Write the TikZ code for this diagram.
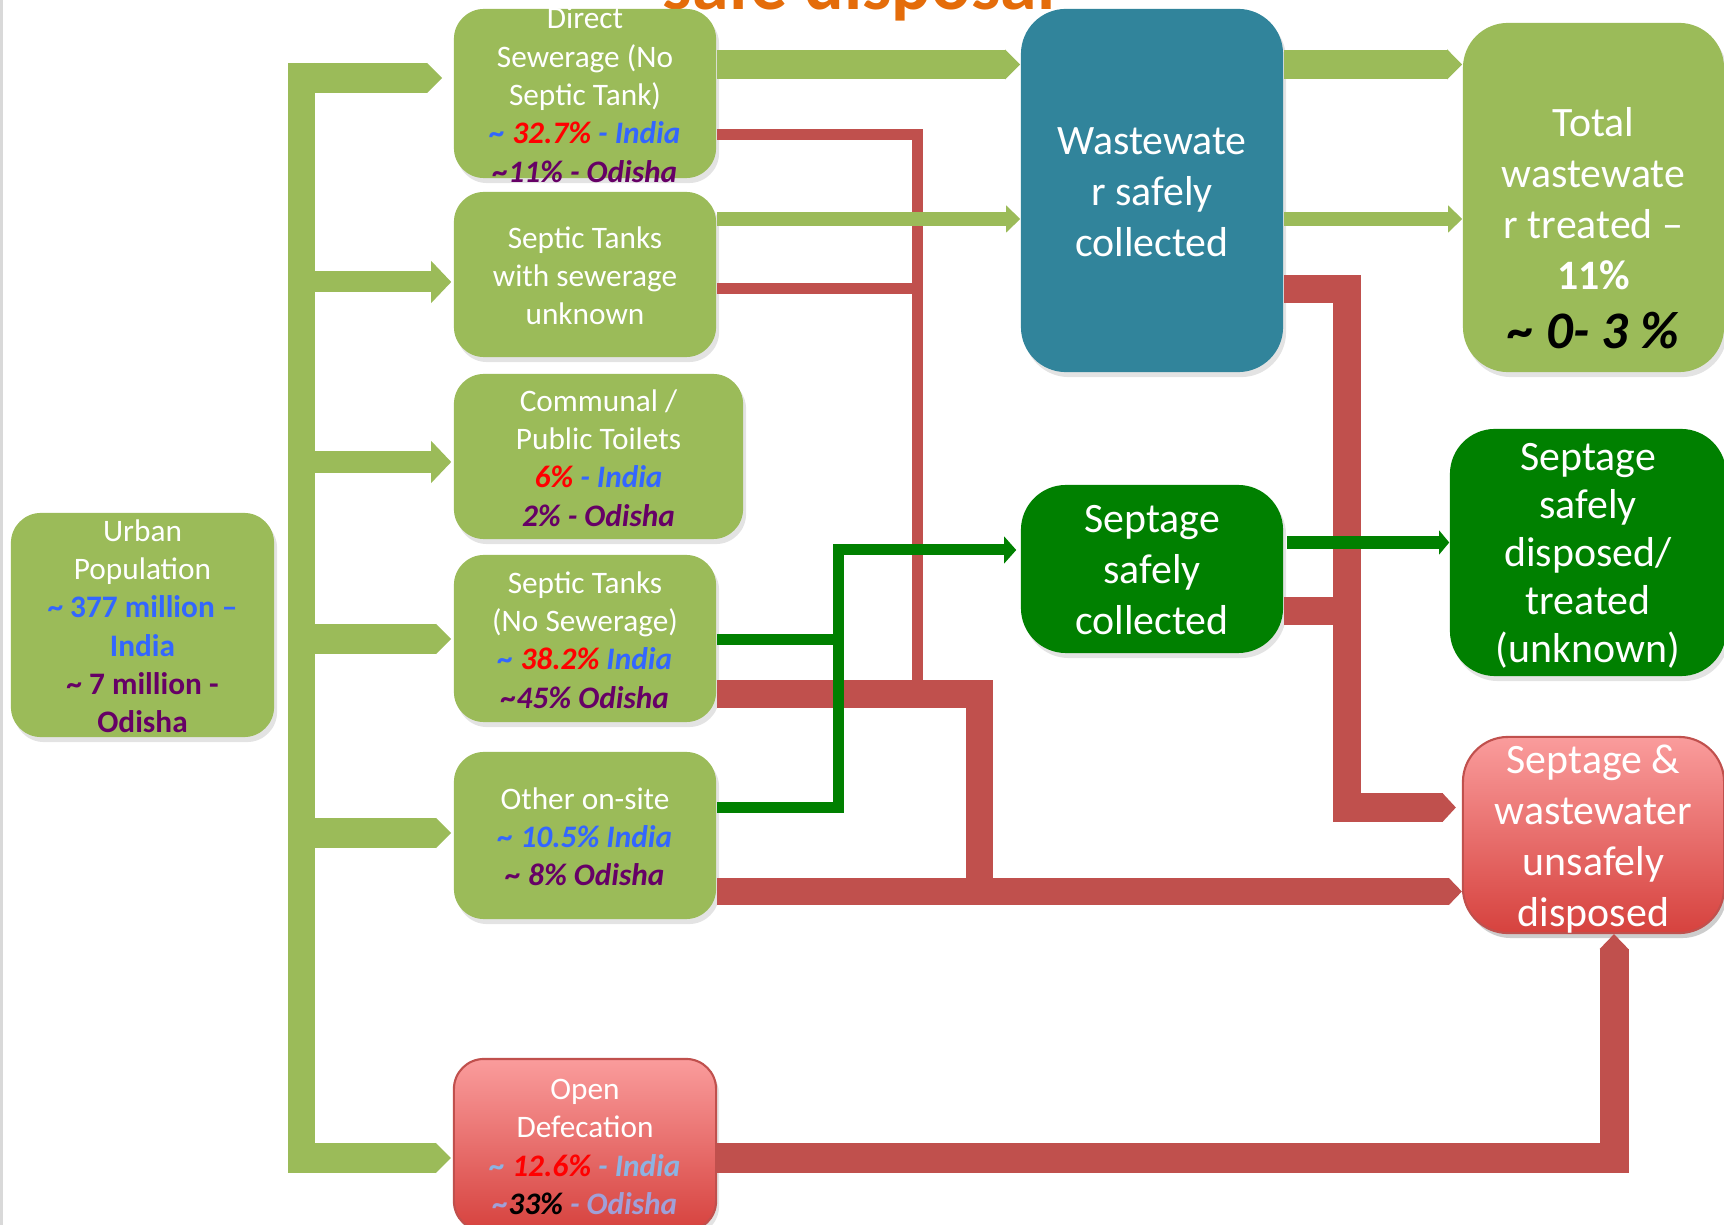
\documentclass[tikz,border=0pt]{standalone}
\usepackage{fontspec}
\setmainfont{Carlito}
\usepackage{xcolor}
\usepackage{tikz}
\usetikzlibrary{arrows.meta,shadows}

\definecolor{flowgreen}{HTML}{9BBB59}
\definecolor{wwteal}{HTML}{31849B}
\definecolor{septgreen}{HTML}{008000}
\definecolor{leakred}{HTML}{C0504D}
\definecolor{pinktop}{HTML}{FA9C9C}
\definecolor{pinkbot}{HTML}{D6423E}
\definecolor{indiablue}{HTML}{3366FF}
\definecolor{odishapurple}{HTML}{660066}
\definecolor{paleblue}{HTML}{8DB3E2}
\definecolor{lavender}{HTML}{A0A0D8}
\definecolor{titleorange}{HTML}{E46C0A}

% centred block of lines that does not grow the box
\newcommand{\boxlines}[2][0pt]{\smash{\raisebox{\dimexpr-0.25em-1.3pt+#1\relax}{\begin{tabular}{@{}c@{}}#2\end{tabular}}}}
\newcommand{\tld}{\textasciitilde}

\begin{document}
\begin{tikzpicture}[
  x=0.01cm, y=-0.01cm,
  cell/.style={rounded corners=0.3cm, inner sep=0pt, text=white,
    font=\fontsize{8.9}{10.9}\selectfont,
    drop shadow={opacity=0.22, shadow xshift=0.03cm, shadow yshift=-0.05cm}},
  greencell/.style={cell, fill=flowgreen},
  pinkcell/.style={cell, top color=pinktop, bottom color=pinkbot, draw=leakred, line width=0.6pt},
  bigcell/.style={cell, rounded corners=0.45cm, font=\fontsize{11.9}{14.5}\selectfont},
  headed/.style 2 args={-{Triangle[length=#1, width=#2, line width=0pt]}},
  flowchev/.style={draw=flowgreen, line width=0.3cm, headed={0.15cm}{0.3cm}},
  flowhead/.style={draw=flowgreen, line width=0.21cm, headed={0.2cm}{0.42cm}},
  flowthin/.style={draw=flowgreen, line width=0.14cm, headed={0.14cm}{0.27cm}},
  redthin/.style={draw=leakred, line width=0.11cm},
  redfat/.style={draw=leakred, line width=0.27cm},
  septline/.style={draw=septgreen, line width=0.11cm}
]
  \useasboundingbox (0,0) rectangle (1724,1225);
  \draw[black!15, line width=0.03cm] (1.5,0) -- (1.5,1225);

  \node[font=\bfseries\fontsize{21}{25}\selectfont, text=titleorange, anchor=base]
    (title) at (859,10) {safe disposal};

  % boxes
  \node[greencell, minimum width=2.63cm, minimum height=2.24cm] (urban) at (142.5,625)
    {\boxlines{Urban\\Population\\
      {\bfseries\color{indiablue}\tld{} 377 million –}\\
      {\bfseries\color{indiablue}India}\\
      {\bfseries\color{odishapurple}\tld{} 7 million -}\\
      {\bfseries\color{odishapurple}Odisha}}};

  \node[greencell, minimum width=2.62cm, minimum height=1.69cm] (direct) at (585,93.5)
    {\boxlines{Direct\\Sewerage (No\\Septic Tank)\\
      {\bfseries\itshape\color{indiablue}\tld{} \textcolor{red}{32.7\%} - India}\\
      {\bfseries\itshape\color{odishapurple}\tld11\% - Odisha}}};
  \node[greencell, minimum width=2.62cm, minimum height=1.65cm] (sewunk) at (585,274.5)
    {\boxlines{Septic Tanks\\with sewerage\\unknown}};
  \node[greencell, minimum width=2.89cm, minimum height=1.65cm] (communal) at (598.5,456.5)
    {\boxlines{Communal /\\Public Toilets\\
      {\bfseries\itshape\textcolor{red}{6\%} \textcolor{indiablue}{- India}}\\
      {\bfseries\itshape\color{odishapurple}2\% - Odisha}}};
  \node[greencell, minimum width=2.62cm, minimum height=1.67cm] (septic) at (585,638.5)
    {\boxlines{Septic Tanks\\(No Sewerage)\\
      {\bfseries\itshape\color{indiablue}\tld{} \textcolor{red}{38.2\%} India}\\
      {\bfseries\itshape\color{odishapurple}\tld45\% Odisha}}};
  \node[greencell, minimum width=2.62cm, minimum height=1.67cm] (other) at (585,835.5)
    {\boxlines{Other on-site\\
      {\bfseries\itshape\color{indiablue}\tld{} 10.5\% India}\\
      {\bfseries\itshape\color{odishapurple}\tld{} 8\% Odisha}}};
  \node[pinkcell, minimum width=2.62cm, minimum height=1.72cm] (opendef) at (585,1145)
    {\boxlines{Open\\Defecation\\
      {\bfseries\itshape\color{paleblue}\tld{} \textcolor{red}{12.6\%} - India}\\
      {\bfseries\itshape\color{lavender}\tld\textcolor{black}{33\%} - Odisha}}};

  \node[bigcell, fill=wwteal, minimum width=2.62cm, minimum height=3.63cm] (wwc) at (1152,190.5)
    {\boxlines{Wastewate\\r safely\\collected}};
  \node[bigcell, fill=septgreen, minimum width=2.62cm, minimum height=1.68cm] (scol) at (1152,569)
    {\boxlines{Septage\\safely\\collected}};
  \node[bigcell, fill=flowgreen, minimum width=2.61cm, minimum height=3.49cm] (total) at (1593.5,197.5)
    {\boxlines[-0.3cm]{Total\\wastewate\\r treated –\\{\bfseries 11\%}\\[2pt]
      {\fontsize{15}{18}\selectfont\bfseries\itshape\color{black}\tld{} 0- 3 \%}}};
  \node[bigcell, fill=septgreen, font=\fontsize{11.9}{13.7}\selectfont,
        minimum width=2.76cm, minimum height=2.47cm] (sdisp) at (1588,552.5)
    {\boxlines{Septage\\safely\\disposed/\\treated\\(unknown)}};
  \node[bigcell, pinkcell, rounded corners=0.45cm, font=\fontsize{11.9}{14.5}\selectfont,
        minimum width=2.61cm, minimum height=1.96cm] (unsafe) at (1593.5,835)
    {\boxlines{Septage \&\\wastewater\\unsafely\\disposed}};

  % unsafe flows
  \coordinate (rk1) at (917,134.5);
  \coordinate (rk2) at (917,289);
  \coordinate (rk3) at (917,694);
  \draw[redthin] (direct.east |- rk1) -- (rk1) -- (rk3);
  \draw[redthin] (sewunk.east |- rk2) -- (rk2);
  \coordinate (rf1) at (979,694);
  \coordinate (rf2) at (979,891.5);
  \draw[redfat] (septic.east |- rf1) -- (rf1) -- (rf2);
  \draw[redfat, headed={0.13cm}{0.27cm}] (other.east |- rf2) -- (unsafe.west |- rf2);
  \coordinate (rw1) at (1347,289);
  \coordinate (rw2) at (1347,807.5);
  \coordinate (rw3) at (1347,611);
  \draw[redfat, line width=0.28cm, headed={0.13cm}{0.28cm}, shorten >=0.06cm]
    (wwc.east |- rw1) -- (rw1) -- (rw2) -- (unsafe.west |- rw2);
  \draw[redfat, line width=0.28cm] (scol.east |- rw3) -- (rw3);
  \coordinate (ro1) at (1614,1158);
  \draw[redfat, line width=0.29cm, headed={0.15cm}{0.29cm}]
    (opendef.east |- ro1) -- (ro1) -- (unsafe.south -| ro1);

  % population split
  \coordinate (trunktop) at (301.5,63);
  \coordinate (trunkbot) at (301.5,1172);
  \draw[flowgreen, line width=0.27cm] (trunktop) -- (trunkbot);
  \foreach \yy/\bx/\gap in {78/direct/0.11cm, 639/septic/0.02cm,
                            833/other/0.02cm, 1158/opendef/0.02cm} {
    \coordinate (fork-\bx) at (288,\yy);
    \draw[flowchev, shorten >=\gap] (fork-\bx) -- (fork-\bx -| \bx.west);
  }
  \foreach \yy/\bx in {282/sewunk, 462/communal} {
    \coordinate (fork-\bx) at (301.5,\yy);
    \draw[flowhead, shorten >=0.02cm] (fork-\bx) -- (fork-\bx -| \bx.west);
  }

  % sewer flows
  \coordinate (lvl-a) at (0,64.5);
  \coordinate (lvl-b) at (0,219);
  \draw[flowchev, line width=0.29cm] (direct.east |- lvl-a) -- (wwc.west |- lvl-a);
  \draw[flowthin] (sewunk.east |- lvl-b) -- (wwc.west |- lvl-b);
  \draw[flowchev, line width=0.29cm] (wwc.east |- lvl-a) -- (total.west |- lvl-a);
  \draw[flowthin] (wwc.east |- lvl-b) -- (total.west |- lvl-b);

  % septage flows
  \coordinate (gk1) at (838.5,639.5);
  \coordinate (gk2) at (838.5,807.5);
  \coordinate (gk3) at (838.5,550);
  \coordinate (gk4) at (1287,542.5);
  \draw[septline] (septic.east |- gk1) -- (gk1);
  \draw[septline, headed={0.12cm}{0.27cm}, shorten >=0.04cm]
    (other.east |- gk2) -- (gk2) -- (gk3) -- (scol.west |- gk3);
  \draw[septline, line width=0.13cm, headed={0.1cm}{0.24cm}] (gk4) -- (sdisp.west |- gk4);
\end{tikzpicture}
\end{document}
